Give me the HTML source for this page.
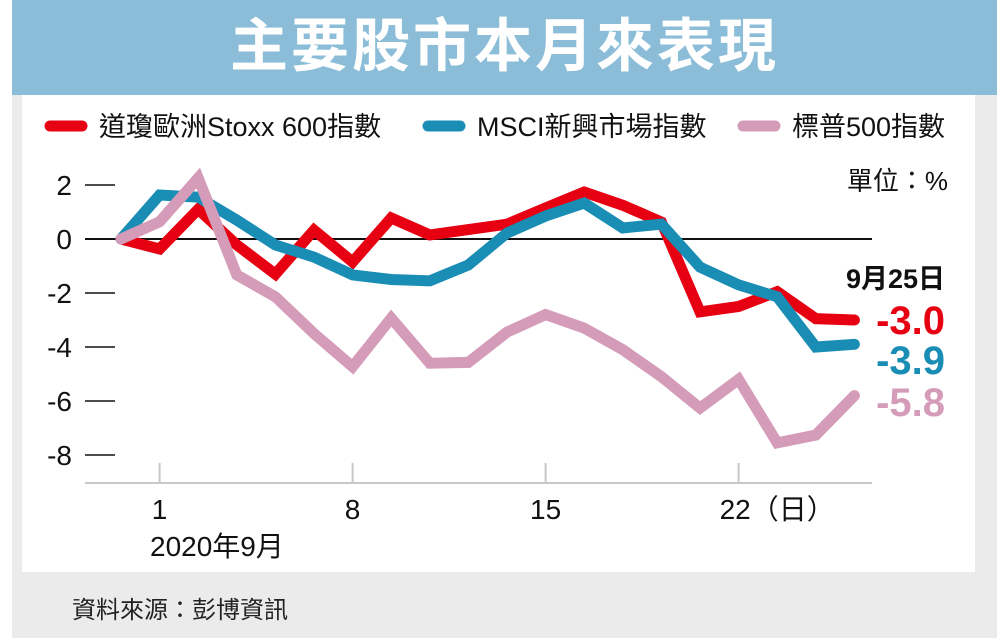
<!DOCTYPE html>
<html><head><meta charset="utf-8">
<style>
body{margin:0;width:997px;height:638px;background:#fff;position:relative;overflow:hidden;font-family:"Liberation Sans","Noto Sans CJK TC",sans-serif;}
.abs{position:absolute;}
</style></head>
<body>
<div class="abs" style="left:12px;top:0;width:985px;height:638px;background:#ebebeb;"></div>
<div class="abs" style="left:12px;top:0;width:985px;height:95px;background:#8bbdd8;"></div>
<div class="abs" style="left:12px;top:11px;width:985px;text-align:center;color:#fff;font-size:58px;font-weight:bold;line-height:72px;letter-spacing:3px;">主要股市本月來表現</div>
<div class="abs" style="left:22px;top:95px;width:953px;height:477px;background:#fff;"></div>
<div class="abs" style="left:72px;top:590px;font-size:24px;color:#222;">資料來源：彭博資訊</div>
<svg class="abs" style="left:0;top:0" width="997" height="638">
<g id="legend"></g>
<g id="axes"></g>
<g id="series"></g>
<g id="labels"></g>
</svg>
<script>
const categories=["8/31","9/1","9/2","9/3","9/4","9/7","9/8","9/9","9/10","9/11","9/14","9/15","9/16","9/17","9/18","9/21","9/22","9/23","9/24","9/25"];
const stoxx=[0,-0.37,1.1,-0.22,-1.3,0.33,-0.85,0.78,0.15,0.35,0.55,1.15,1.74,1.25,0.63,-2.7,-2.5,-1.95,-2.95,-3.0];
const msci=[0,1.63,1.55,0.7,-0.22,-0.67,-1.33,-1.5,-1.55,-0.96,0.22,0.85,1.33,0.41,0.55,-1.04,-1.7,-2.14,-4.0,-3.9];
const sp=[0,0.64,2.26,-1.33,-2.14,-3.5,-4.73,-2.93,-4.6,-4.57,-3.45,-2.8,-3.3,-4.1,-5.1,-6.26,-5.2,-7.55,-7.26,-5.8];
const yTicks=[2,0,-2,-4,-6,-8];
const xTicks=[{i:1,label:"1"},{i:6,label:"8"},{i:11,label:"15"},{i:16,label:"22（日）"}];
const seriesNames=["道瓊歐洲Stoxx 600指數","MSCI新興市場指數","標普500指數"];
const endLabels=["-3.0","-3.9","-5.8"];
const colors=["#e60012","#1a8db5","#d49cb8"];
const NS="http://www.w3.org/2000/svg";
const X0=121,DX=38.6,Y0=239,DY=27;
function xs(i){return X0+i*DX;}
function ys(v){return Y0-v*DY;}
function mk(tag,attrs,parent){const e=document.createElementNS(NS,tag);for(const k in attrs)e.setAttribute(k,attrs[k]);document.getElementById(parent).appendChild(e);return e;}
let e;
e=mk("line",{x1:85,x2:872,y1:483,y2:483,stroke:"#c8c8c8","stroke-width":2},"axes");


e=mk("line",{x1:85,x2:872,y1:ys(0),y2:ys(0),stroke:"#111","stroke-width":2},"axes");


yTicks.forEach(v=>{
  e=mk("line",{x1:85,x2:115,y1:ys(v),y2:ys(v),stroke:"#111","stroke-width":1.5},"axes");
  
  
  e=mk("text",{x:72,y:ys(v)+10,"text-anchor":"end","font-size":28,fill:"#111"},"axes");
  e.textContent=String(v);
  
  
});
xTicks.forEach(t=>{
  e=mk("line",{x1:xs(t.i),x2:xs(t.i),y1:463,y2:483,stroke:"#c8c8c8","stroke-width":2},"axes");
  
  
  e=mk("text",{x:xs(t.i)-(t.i===16?19:0),y:519,"text-anchor":t.i===16?"start":"middle","font-size":28,fill:"#111"},"axes");
  e.textContent=t.label;
  
  
});
e=mk("text",{x:150,y:556,"font-size":28,fill:"#111"},"axes");
e.textContent="2020年9月";


e=mk("text",{x:948,y:190,"text-anchor":"end","font-size":26,fill:"#111"},"axes");
e.textContent="單位：%";


const data=[stoxx,msci,sp];
[0,1,2].forEach(k=>{
  const pts=data[k].map((v,i)=>xs(i)+","+ys(v)).join(" ");
  e=mk("polyline",{points:pts,fill:"none",stroke:colors[k],"stroke-width":11,"stroke-linejoin":"miter","stroke-linecap":"round"},"series");
  
  
});
const legX=[42,420,735];
seriesNames.forEach((n,k)=>{
  e=mk("line",{x1:legX[k]+8,x2:legX[k]+40,y1:126,y2:126,stroke:colors[k],"stroke-width":11,"stroke-linecap":"round"},"legend");
  
  
  e=mk("text",{x:legX[k]+57,y:136,"font-size":27,fill:"#111"},"legend");
  e.textContent=n;
  
  
});
e=mk("text",{x:945,y:288,"text-anchor":"end","font-size":27,"font-weight":"bold",fill:"#111"},"labels");
e.textContent="9月25日";


const lblY=[334,374,416];
endLabels.forEach((t,k)=>{
  e=mk("text",{x:945,y:lblY[k],"text-anchor":"end","font-size":40,"font-weight":"bold",fill:colors[k]},"labels");
  e.textContent=t;
  
  
});
</script>
</body></html>
